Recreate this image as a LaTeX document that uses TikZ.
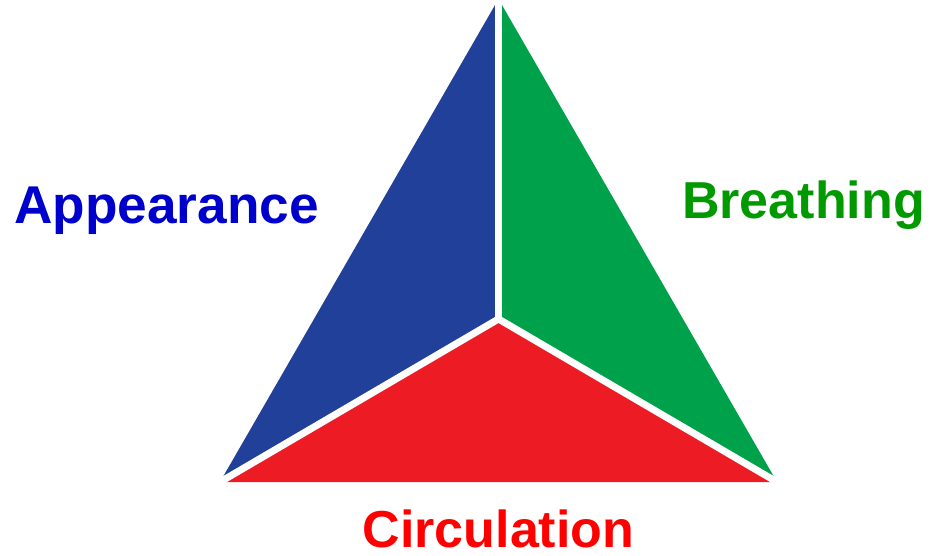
\documentclass[tikz,border=0pt]{standalone}
\usepackage{fontspec}
\setmainfont{Liberation Sans}
\usetikzlibrary{positioning}
\definecolor{apblue}{HTML}{21409A}
\definecolor{brgreen}{HTML}{00A14B}
\definecolor{cired}{HTML}{ED1C24}
\definecolor{aptext}{HTML}{0000CC}
\definecolor{brtext}{HTML}{009900}
\definecolor{citext}{HTML}{FF0000}
\tikzset{
  gap/.style={white,line width=7pt},
  word/.style={font=\fontsize{52}{60}\selectfont\bfseries,inner sep=0pt},
}

\begin{document}
\begin{tikzpicture}[x=1pt,y=-1pt]
\useasboundingbox (0,0) rectangle (931,555);
% corners of the triangle and its centre
\coordinate (top) at (498.5,-1);
\coordinate (bl) at (220,482);
\coordinate (br) at (777,482);
\coordinate (mid) at (498.5,319);
% the three parts
\fill[apblue] (top) -- (bl) -- (mid) -- cycle;
\fill[brgreen] (top) -- (br) -- (mid) -- cycle;
\fill[cired] (bl) -- (br) -- (mid) -- cycle;
% white gaps between them
\draw[gap] (mid) -- (top);
\draw[gap] (mid) -- (bl);
\draw[gap] (mid) -- (br);
% labels
\node[word,font=\fontsize{53.2}{60}\selectfont\bfseries,text=aptext,anchor=base west] (appearance) at (14,223) {Appearance};
\node[word,text=brtext,anchor=base west] (breathing) at (682,218) {Breathing};
\node[word,text=citext,anchor=base] (circulation) at (498.5,547) {Circulation};
\end{tikzpicture}
\end{document}
